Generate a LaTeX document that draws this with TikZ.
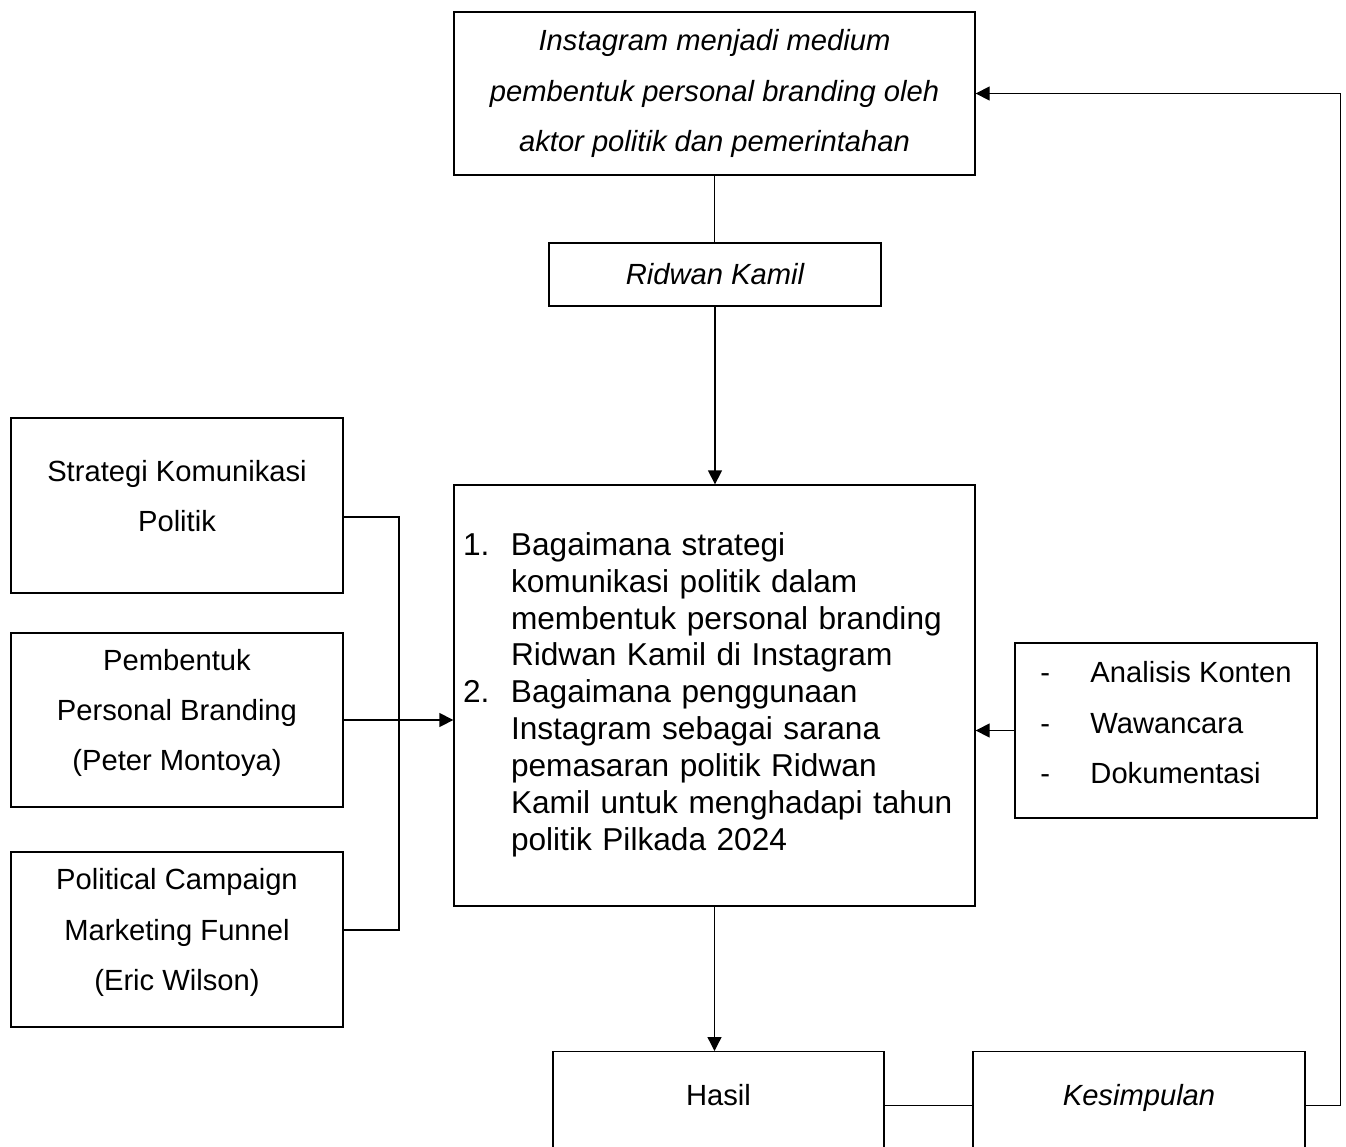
\documentclass[tikz,border=0pt]{standalone}
\usepackage{fontspec}
\setmainfont{Liberation Sans}
\usetikzlibrary{arrows.meta}

\begin{document}
\begin{tikzpicture}[
  >={Triangle[length=0.28cm, width=0.28cm]},
  line width=0.75pt,
  box/.style={draw=black, fill=white, rectangle, align=center, inner sep=0pt, font=\fontsize{16.6}{28.5}\selectfont},
  ital/.style={font=\fontsize{16.6}{28.5}\selectfont\itshape},
  listbox/.style={box, align=left, font=\fontsize{18}{21}\selectfont}
]

\useasboundingbox (0,0) rectangle (26.92,-22.94);

\node[box, ital, minimum width=10.42cm, minimum height=3.26cm] (TOP) at (14.29,-1.87) {Instagram menjadi medium\\pembentuk personal branding oleh\\aktor politik dan pemerintahan};
\node[box, ital, minimum width=6.64cm, minimum height=1.26cm] (RK) at (14.30,-5.49) {Ridwan Kamil};

\node[listbox, text width=10.06cm, inner xsep=0.18cm, minimum height=8.42cm] (RQ) at (14.29,-13.91) {%
\begin{tabular}{@{}p{0.96cm}@{}l@{}}
1. & Bagaimana strategi\\
   & komunikasi politik dalam\\
   & membentuk personal branding\\
   & Ridwan Kamil di Instagram\\
2. & Bagaimana penggunaan\\
   & Instagram sebagai sarana\\
   & pemasaran politik Ridwan\\
   & Kamil untuk menghadapi tahun\\
   & politik Pilkada 2024
\end{tabular}};

\node[box, minimum width=6.64cm, minimum height=3.5cm, text depth=0.4cm] (STRAT) at (3.54,-10.11) {Strategi Komunikasi\\Politik};
\node[box, minimum width=6.64cm, minimum height=3.48cm, text depth=0.4cm] (BRAND) at (3.54,-14.40) {Pembentuk\\Personal Branding\\(Peter Montoya)};
\node[box, minimum width=6.64cm, minimum height=3.5cm, text depth=0.4cm] (FUNNEL) at (3.54,-18.79) {Political Campaign\\Marketing Funnel\\(Eric Wilson)};

\node[box, minimum width=6.04cm, minimum height=3.5cm] (METHOD) at (23.32,-14.61) {%
\begin{tabular}{@{}p{1.0cm}@{}l@{}}
- & Analisis Konten\\
- & Wawancara\\
- & Dokumentasi\\[0.3cm]
\end{tabular}};

\node[box, anchor=north, minimum width=6.62cm, text height=1.07cm, text depth=2cm] (HASIL) at (14.37,-21.02) {Hasil};
\node[box, ital, anchor=north, minimum width=6.64cm, text height=1.07cm, text depth=2cm] (KESIMP) at (22.78,-21.02) {Kesimpulan};

\coordinate (BUS) at (7.98,-14.40);

\draw (TOP.south) -- (TOP.south |- RK.north);
\draw[->] (RK.south) -- (RK.south |- RQ.north);
\draw ([yshift=-0.23cm]STRAT.east) -| (BUS) |- ([yshift=0.19cm]FUNNEL.east);
\draw[->] (BRAND.east) -- (RQ.west |- BRAND.east);
\draw[->] (METHOD.west) -- (RQ.east |- METHOD.west);
\draw[->] (RQ.south) -- (RQ.south |- HASIL.north);
\draw (HASIL.base east) -- (KESIMP.base west);
\draw[->] (KESIMP.base east) -- ++(0.7,0) |- (TOP.east);

\end{tikzpicture}
\end{document}
